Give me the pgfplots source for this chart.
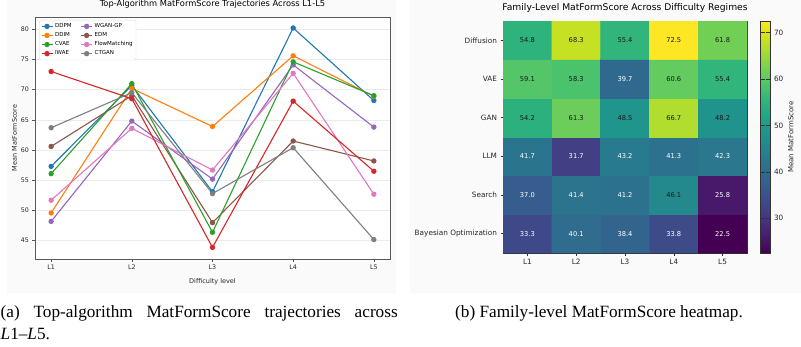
\documentclass[border=0pt]{standalone}
\usepackage{pgfplots}
\pgfplotsset{compat=1.18}
\usepackage{pgfplotstable}
\usepgfplotslibrary{colormaps}
\usepackage{fontspec}
\setmainfont{Liberation Serif}
\newfontfamily\chartfont{DejaVu Sans}
\definecolor{cDDPM}{HTML}{1F77B4}
\definecolor{cDDIM}{HTML}{FF7F0E}
\definecolor{cCVAE}{HTML}{2CA02C}
\definecolor{cIWAE}{HTML}{D62728}
\definecolor{cWGAN}{HTML}{9467BD}
\definecolor{cEDM}{HTML}{8C564B}
\definecolor{cFlow}{HTML}{E377C2}
\definecolor{cCTGAN}{HTML}{7F7F7F}

\pgfplotstableread{
lvl DDPM DDIM CVAE IWAE WGAN EDM Flow CTGAN
0 57.3 49.6 56.1 73.0 48.2 60.6 51.7 63.7
1 70.7 70.2 71.0 68.5 64.8 69.0 63.6 69.5
2 53.1 63.9 46.4 43.9 55.2 48.0 56.7 52.8
3 80.2 75.6 74.6 68.1 74.1 61.5 72.7 60.4
4 68.2 68.9 69.0 56.5 63.8 58.2 52.7 45.2
}\traj

\pgfplotstableread{
x y v
0 0 33.3
1 0 40.1
2 0 38.4
3 0 33.8
4 0 22.5
0 1 37.0
1 1 41.4
2 1 41.2
3 1 46.1
4 1 25.8
0 2 41.7
1 2 31.7
2 2 43.2
3 2 41.3
4 2 42.3
0 3 54.2
1 3 61.3
2 3 48.5
3 3 66.7
4 3 48.2
0 4 59.1
1 4 58.3
2 4 39.7
3 4 60.6
4 4 55.4
0 5 54.8
1 5 68.3
2 5 55.4
3 5 72.5
4 5 61.8
}\heat

\newcommand\heatlabel{%
  \pgfmathfloattofixed{\pgfplotspointmeta}\let\hv\pgfmathresult
  \ifdim\hv pt<45pt\color{white}\else\color{black!90}\fi
  \pgfmathprintnumber[fixed,fixed zerofill,precision=1,assume math mode=true]{\hv}}

\begin{document}
\begin{tikzpicture}[x=1pt,y=1pt]
\useasboundingbox (0,0) rectangle (801,346);
\fill[black!2] (7,53) rectangle (396,346);
\fill[black!2] (410,53) rectangle (801,346);

% ---------------- left panel ----------------
\begin{axis}[
  at={(35pt,87pt)}, anchor=south west,
  scale only axis, width=355pt, height=242pt,
  xmin=-0.2, xmax=4.2, ymin=41.98, ymax=82.02,
  xtick={0,...,4}, xticklabels={L1,L2,L3,L4,L5},
  ytick={45,50,...,80},
  ymajorgrids, grid style={black!8, line width=0.5pt},
  axis line style={black!65, line width=0.6pt},
  axis background/.style={fill=white},
  tick style={black!65, line width=0.5pt}, tick align=outside,
  major tick length=2.5pt,
  xtick pos=bottom, ytick pos=left,
  /pgf/number format/assume math mode=true,
  tick label style={font=\chartfont\fontsize{6.3}{7.5}\selectfont, text=black!85},
  label style={font=\chartfont\fontsize{6.5}{7.5}\selectfont, text=black!85},
  title={Top-Algorithm MatFormScore Trajectories Across L1-L5},
  title style={font=\chartfont\fontsize{8.3}{10}\selectfont, at={(0.5,1)}, anchor=base, yshift=4pt},
  xlabel={Difficulty level}, ylabel={Mean MatFormScore},
  xlabel style={yshift=-2pt}, ylabel style={yshift=-3pt},
  legend columns=2,
  legend style={at={(0.012,0.988)}, anchor=north west,
    font=\chartfont\fontsize{5.5}{6.5}\selectfont,
    draw=black!15, fill=white, rounded corners=1pt,
    inner sep=1.5pt, row sep=-0.5pt,
    /tikz/every even column/.append style={column sep=7pt}},
  legend cell align=left,
  legend image code/.code={\draw[mark repeat=2,mark phase=2] plot coordinates {(0pt,0pt) (5.5pt,0pt) (11pt,0pt)};},
  every axis plot/.append style={line width=1.1pt, mark=*, mark size=2.1pt},
]
\addplot[color=cDDPM] table[x=lvl,y=DDPM]{\traj};
\addlegendentry{DDPM}
\addplot[color=cWGAN] table[x=lvl,y=WGAN]{\traj};
\addlegendentry{WGAN-GP}
\addplot[color=cDDIM] table[x=lvl,y=DDIM]{\traj};
\addlegendentry{DDIM}
\addplot[color=cEDM] table[x=lvl,y=EDM]{\traj};
\addlegendentry{EDM}
\addplot[color=cCVAE] table[x=lvl,y=CVAE]{\traj};
\addlegendentry{CVAE}
\addplot[color=cFlow] table[x=lvl,y=Flow]{\traj};
\addlegendentry{FlowMatching}
\addplot[color=cIWAE] table[x=lvl,y=IWAE]{\traj};
\addlegendentry{IWAE}
\addplot[color=cCTGAN] table[x=lvl,y=CTGAN]{\traj};
\addlegendentry{CTGAN}
\end{axis}

% ---------------- right panel ----------------
\begin{axis}[
  at={(503pt,93pt)}, anchor=south west,
  scale only axis, width=244pt, height=232pt,
  xmin=-0.5, xmax=4.5, ymin=-0.5, ymax=5.5,
  xtick={0,...,4}, xticklabels={L1,L2,L3,L4,L5},
  ytick={0,...,5},
  yticklabels={Bayesian Optimization,Search,LLM,GAN,VAE,Diffusion},
  axis line style={black!80, line width=0.6pt},
  tick style={black!80, line width=0.5pt}, tick align=outside,
  major tick length=2.5pt,
  xtick pos=bottom, ytick pos=left,
  tick label style={font=\chartfont\fontsize{7.3}{8.5}\selectfont, text=black!85},
  title={Family-Level MatFormScore Across Difficulty Regimes},
  title style={font=\chartfont\fontsize{9.2}{11}\selectfont, at={(0.5,1)}, anchor=base, yshift=5pt},
  colormap/viridis,
  point meta min=22.5, point meta max=72.5,
  colorbar,
  colorbar style={
    at={(parent axis.north east)}, anchor=north west, xshift=5pt,
    scale only axis, width=10pt, height=232pt,
    ytick={30,40,...,70},
    axis line style={black!80, line width=0.5pt},
    tick style={black!80, line width=0.5pt},
    /pgf/number format/assume math mode=true,
    yticklabel style={font=\chartfont\fontsize{7.3}{8.5}\selectfont, text=black!85},
    ylabel={Mean MatFormScore},
    ylabel style={font=\chartfont\fontsize{7}{8}\selectfont, text=black!85, yshift=2pt},
  },
]
\addplot[matrix plot*, mesh/cols=5, point meta=explicit] table[x=x,y=y,meta=v]{\heat};
\addplot[only marks, mark=none, point meta=explicit,
  nodes near coords={\heatlabel},
  nodes near coords align={center},
  every node near coord/.append style={font=\chartfont\fontsize{6.7}{8}\selectfont, anchor=center},
] table[x=x,y=y,meta=v]{\heat};
\end{axis}

% ---------------- captions ----------------
\node[anchor=base west, inner sep=0pt, text width=397pt, align=justify,
  font=\fontsize{17.2}{22}\selectfont] at (0.5,29)
  {(a) Top-algorithm MatFormScore trajectories across\linebreak {\itshape L}1--{\itshape L}5.};
\node[anchor=base, inner sep=0pt, font=\fontsize{17.2}{22}\selectfont] at (599,29)
  {(b) Family-level MatFormScore heatmap.};
\end{tikzpicture}
\end{document}
